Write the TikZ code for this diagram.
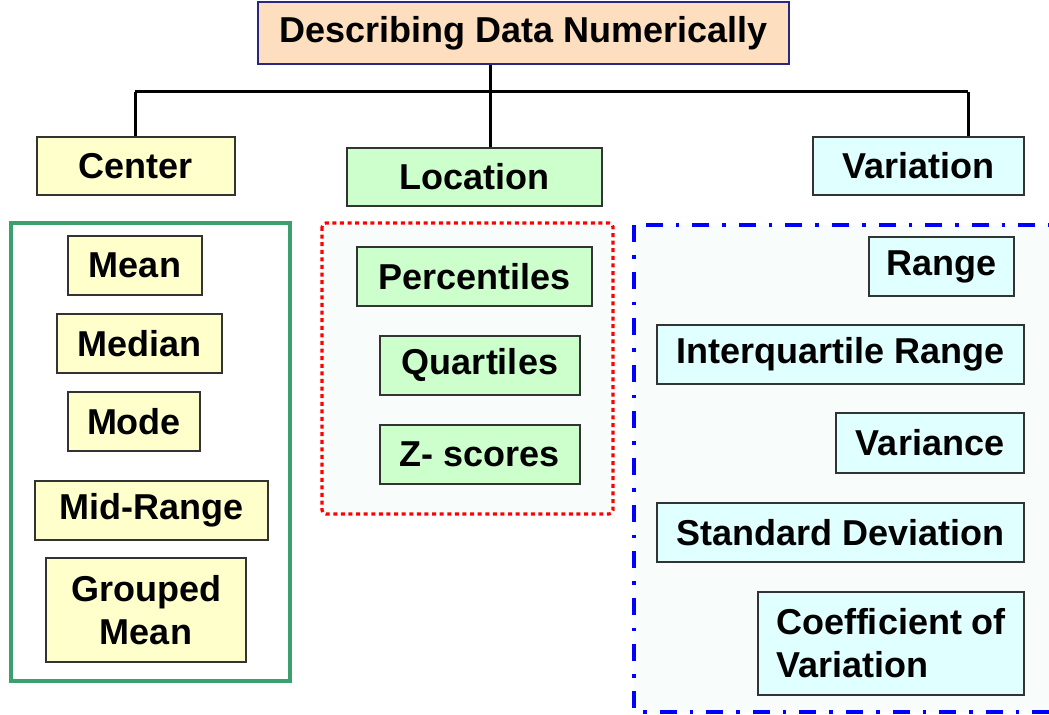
\documentclass[tikz,border=0pt]{standalone}
\usepackage{fontspec}
\setmainfont{Liberation Sans}
\usepackage{tikz}
\usepackage{xcolor}
\usetikzlibrary{calc}
\definecolor{title_fill}{RGB}{253,223,191}
\definecolor{title_line}{RGB}{40,40,130}
\definecolor{center_fill}{RGB}{255,255,204}
\definecolor{loc_fill}{RGB}{204,255,204}
\definecolor{var_fill}{RGB}{224,255,255}
\definecolor{frame_green}{RGB}{60,160,110}
\definecolor{frame_red}{RGB}{255,0,0}
\definecolor{frame_blue}{RGB}{0,0,255}
\definecolor{frame_tint}{RGB}{248,253,252}
\tikzset{
    box/.style={draw=black!80,line width=0.8pt,inner sep=0pt,align=center,
        font=\fontsize{18}{21.5}\selectfont\bfseries},
    box_center/.style={box,fill=center_fill},
    box_loc/.style={box,fill=loc_fill},
    box_var/.style={box,fill=var_fill},
    branch/.style={line width=1.5pt,black},
}

\begin{document}
\begin{tikzpicture}[x=0.5pt,y=-0.5pt]
  \useasboundingbox (0,0) rectangle (1049,715);
  \clip (0,0) rectangle (1049,715);
  % group frames
  \draw[frame_green,line width=1.6pt] (11,223) rectangle (290,681);
  \draw[frame_red,fill=frame_tint,line width=1.6pt,dash pattern=on 2pt off 1.8pt,rounded corners=2pt] (322,223) rectangle (613,514);
  \draw[frame_blue,fill=frame_tint,line width=1.6pt,dash pattern=on 8.5pt off 6.5pt on 1.8pt off 6.5pt] (634,225) rectangle (1070,712);
  % headings
  \node[box,fill=title_fill,draw=title_line,minimum width=265.5pt,minimum height=31pt] (title) at (523.5,33) {Describing Data Numerically};
  \node[box_center,minimum width=99pt,minimum height=29pt] (center) at (136,166) {Center};
  \node[box_loc,minimum width=127.5pt,minimum height=29pt] (loc) at (474.5,177) {Location};
  \node[box_var,minimum width=105.5pt,minimum height=29pt] (var) at (918.5,166) {Variation};
  % branches
  \coordinate (bar_l) at (135,92);
  \coordinate (bar_m) at (490,92);
  \coordinate (bar_r) at (968,92);
  \draw[branch] (bar_l) -- (bar_r);
  \draw[branch] (title.south -| bar_m) -- (bar_m |- loc.north);
  \draw[branch] (bar_l) -- (bar_l |- center.north);
  \draw[branch] (bar_r) -- (bar_r |- var.north);
  % center measures
  \node[box_center,minimum width=67pt,minimum height=29.5pt] (mean) at (135,265.5) {Mean};
  \node[box_center,minimum width=82.5pt,minimum height=29.5pt] (median) at (139.5,343.5) {Median};
  \node[box_center,minimum width=66pt,minimum height=29.5pt] (mode) at (134,421.5) {Mode};
  \node[box_center,minimum width=116.5pt,minimum height=29.5pt] (midrange) at (151.5,510.5) {Mid-Range};
  \node[box_center,minimum width=100pt,minimum height=52pt] (grouped) at (146,610) {Grouped\\Mean};
  % location measures
  \node[box_loc,minimum width=117.5pt,minimum height=29.5pt] (perc) at (474.5,276.5) {Percentiles};
  \node[box_loc,minimum width=100pt,minimum height=29.5pt] (quart) at (480,365.5) {Quartiles};
  \node[box_loc,minimum width=100pt,minimum height=29.5pt] (zscore) at (480,454.5) {Z- scores};
  % variation measures
  \node[box_var,minimum width=72.5pt,minimum height=29.5pt] (range) at (941.5,266.5) {Range};
  \node[box_var,minimum width=183.5pt,minimum height=29.5pt] (iqr) at (840.5,354.5) {Interquartile Range};
  \node[box_var,minimum width=94pt,minimum height=30pt] (variance) at (930,443) {Variance};
  \node[box_var,minimum width=183.5pt,minimum height=29.5pt] (stdev) at (840.5,532.5) {Standard Deviation};
  \node[box_var,minimum width=133pt,minimum height=51.5pt,align=left] (coefvar) at (891,643.5) {Coefficient of\\Variation};
\end{tikzpicture}
\end{document}
